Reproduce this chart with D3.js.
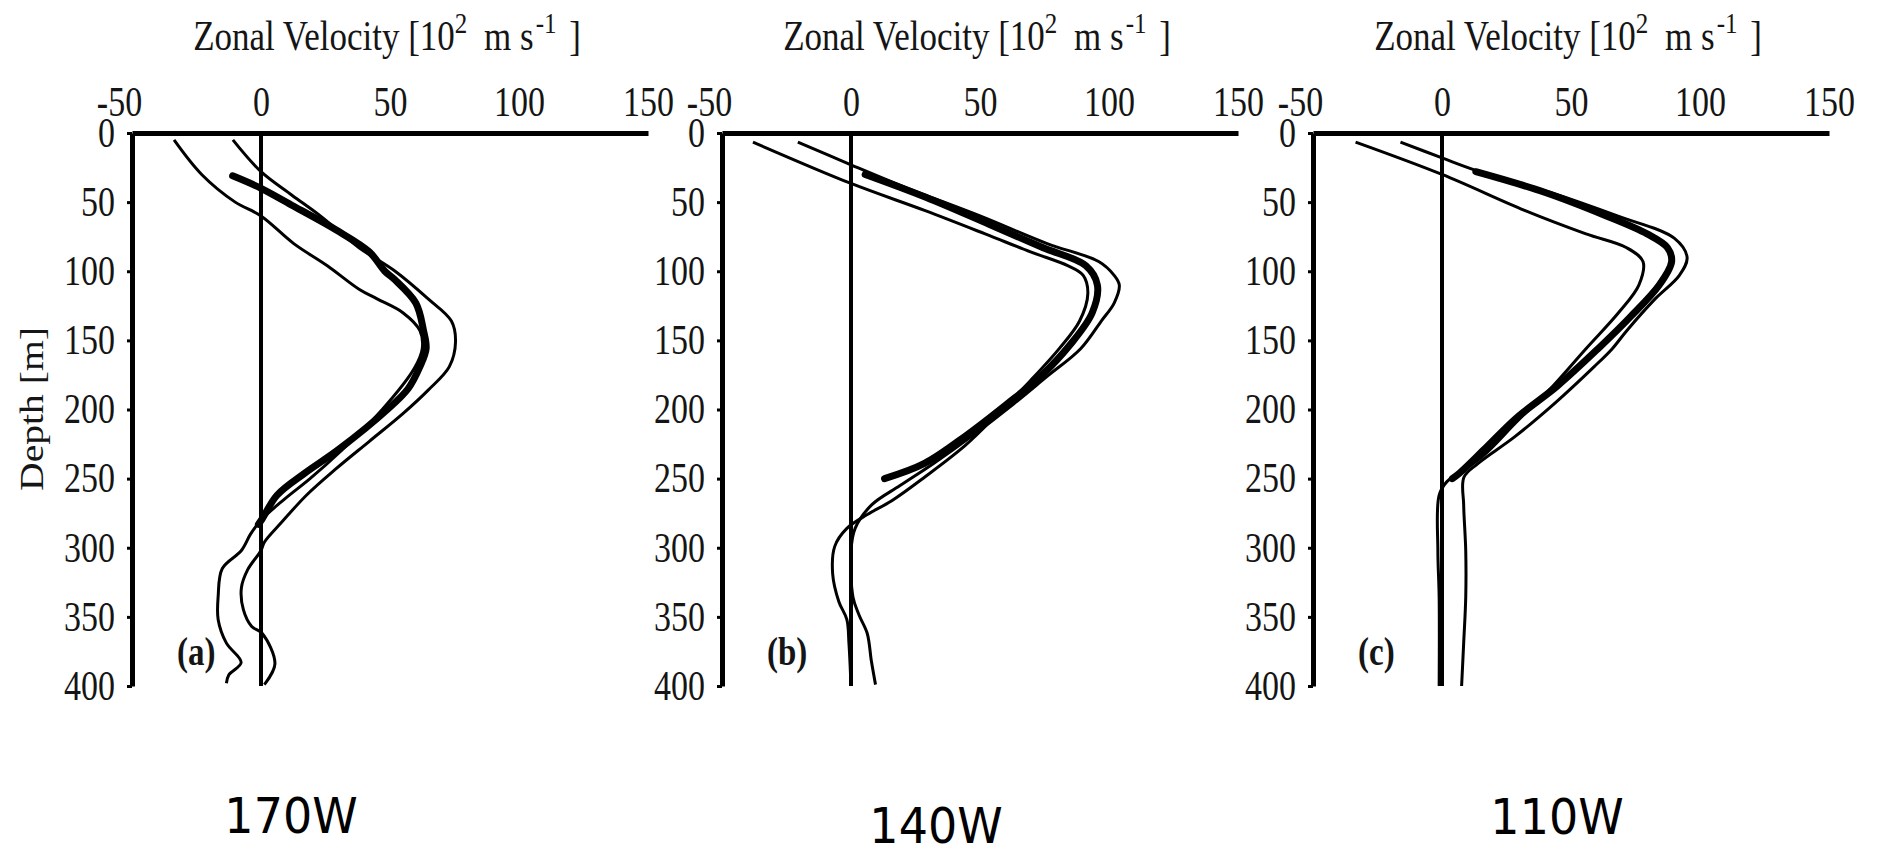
<!DOCTYPE html>
<html>
<head>
<meta charset="utf-8">
<script src="https://cdn.jsdelivr.net/npm/d3@7"></script>
<style>
  body { margin: 0; background: #fff; }
  svg { display: block; }
</style>
</head>
<body>
<div id="vis"></div>
<script>
// velocity profiles, each point is [depth (m), zonal velocity (10^-2 m/s)]

const xTicks = [-50, 0, 50, 100, 150];
const yTicks = [0, 50, 100, 150, 200, 250, 300, 350, 400];
const panelLetters = ['(a)', '(b)', '(c)'];
const sections = ['170W', '140W', '110W'];

// 170W
const a_thin1 = [[5,-33.7],[30,-23],[50,-10],[60,0],[80,12.7],[96,25.7],[113,38],[120,45],[130,55],[143,61.6],[156,62.5],[170,59.5],[200,47],[230,31],[250,19],[265,9],[280,0],[290,-4],[302,-7.6],[315,-15],[335,-16.6],[352,-16.6],[369,-13.4],[383,-7.7],[392,-12.5],[398,-13.4]];
const a_thin2 = [[5,-10.9],[28,0],[45,12],[60,23],[83,38],[100,52],[120,64.8],[136,73.8],[151,75.4],[169,73],[186,64.8],[203,55],[223,42],[243,29],[262,17.6],[282,7.8],[296,1.3],[302,0],[316,-5.2],[329,-7.6],[345,-6.8],[357,-3.6],[362,0.5],[384,5.4],[399,1.3]];
const a_thick = [[31,-11],[40,0],[53,12.7],[70,29],[86,42],[100,48],[106,51.8],[123,60],[143,63],[156,64],[169,61.6],[185,57],[200,49],[229,30],[246,17],[262,6.2],[279,0.5],[283,-1]];

// 140W
const b_thin1 = [[6.6,-38],[36.5,0],[56,28.5],[73,52],[86,69.6],[96,84],[103,90],[116,91.8],[136,88.6],[156,80.7],[179,69.6],[203,57],[226,44.3],[249,28.5],[266,15.8],[276,6.3],[286,-1.6],[299,-6.3],[319,-7.1],[339,-4.7],[352,-1.6],[369,-0.8],[400,0]];
const b_thin2 = [[6.6,-20.6],[23,0],[40,22],[60,50],[80,76],[93,96],[103,102],[110,104],[123,102],[136,97],[156,89],[176,76],[196,63],[219,47],[239,32],[255,19],[269,8],[286,1.6],[302,0],[336,0.8],[349,3.2],[362,6.3],[382,7.9],[399,9.5]];
const b_thick = [[30,5.5],[46.5,29],[66,53.5],[83,74.5],[96,91],[110,95.5],[130,93.5],[153,85],[176,73.5],[196,60.5],[219,44.5],[239,28.5],[250,13]];

// 110W
const c_thin1 = [[6.6,-33.5],[30,0],[56,32],[73,55.8],[83,71.6],[93,77.9],[110,76.3],[130,68.4],[156,55.8],[186,41.5],[209,28.9],[233,16.3],[246,6.8],[252,2],[262,-1.1],[302,-1.6],[336,-1.1],[400,-1.1]];
const c_thin2 = [[6.6,-16.1],[18,0],[27,13.1],[43,42],[60,68],[76,90],[90,95],[103,92],[120,82.6],[143,71.6],[156,66],[169,59],[195,44],[220,28],[239,14],[249,8.5],[269,8.4],[302,9.2],[336,9.2],[369,8.4],[400,7.6]];
const c_thick = [[28,13.1],[43,40],[60,63.7],[73,79.5],[83,87.4],[93,89],[110,84.2],[133,73],[156,60.5],[183,44.7],[206,28.9],[229,16.3],[246,6.8],[250,4]];

const profiles = [
  {thin: [a_thin1, a_thin2], thick: a_thick},
  {thin: [b_thin1, b_thin2], thick: b_thick},
  {thin: [c_thin1, c_thin2], thick: c_thick}
];

const W = 1878, H = 847;
const panelLeft = [132, 722, 1313];
const panelW = 516, plotTop = 133, plotBottom = 686;
const sectionPos = [[291, 833], [936, 843], [1557, 834]];
const serif = '"Liberation Serif", "Times New Roman", serif';
const stretch = 1.22;
const ink = '#151515';

const svg = d3.select('#vis')
  .append('svg')
  .attr('width', W)
  .attr('height', H)
  .style('background-color', '#fff');

profiles.forEach(function(p, i) {
  const left = panelLeft[i];
  const x = d3.scaleLinear().domain([-50, 150]).range([left, left + panelW]);
  const y = d3.scaleLinear().domain([0, 400]).range([plotTop, plotBottom]);
  const g = svg.append('g');

  const line = d3.line()
    .x(d => x(d[1]))
    .y(d => y(d[0]))
    .curve(d3.curveCatmullRom.alpha(0.5));

  // zero line
  g.append('line')
    .attr('x1', x(0)).attr('x2', x(0))
    .attr('y1', y(0)).attr('y2', y(400))
    .attr('stroke', '#000')
    .attr('stroke-width', 4);

  p.thin.forEach(function(s) {
    g.append('path')
      .datum(s)
      .attr('d', line)
      .attr('fill', 'none')
      .attr('stroke', '#000')
      .attr('stroke-width', 3);
  });

  g.append('path')
    .datum(p.thick)
    .attr('d', line)
    .attr('fill', 'none')
    .attr('stroke', '#000')
    .attr('stroke-width', 7)
    .attr('stroke-linecap', 'round');

  // depth axis
  const yAxis = g.append('g')
    .attr('transform', 'translate(' + left + ',0)')
    .call(d3.axisLeft(y).tickValues(yTicks).tickSize(5).tickSizeOuter(0).tickPadding(12).tickFormat(d => String(d)));
  yAxis.select('.domain').attr('stroke-width', 5);
  yAxis.selectAll('.tick line').attr('stroke-width', 3);
  yAxis.selectAll('.tick text')
    .attr('font-family', serif)
    .attr('font-size', 34)
    .attr('fill', ink)
    .attr('transform', 'scale(1,' + stretch + ')');

  // velocity axis on top
  const xAxis = g.append('g')
    .attr('transform', 'translate(0,' + plotTop + ')')
    .call(d3.axisTop(x).tickValues(xTicks).tickSize(0).tickSizeOuter(0).tickPadding(14).tickFormat(d => String(d)));
  xAxis.select('.domain').attr('stroke-width', 5);
  xAxis.selectAll('.tick text')
    .attr('font-family', serif)
    .attr('font-size', 34)
    .attr('fill', ink)
    .attr('dx', d => d < 0 ? -13 : 0)
    .attr('transform', 'scale(1,' + stretch + ')');

  // title
  const title = g.append('text')
    .attr('transform', 'translate(' + (left + panelW / 2 - 3) + ',50) scale(1,1.2)')
    .attr('text-anchor', 'middle')
    .attr('font-family', serif)
    .attr('font-size', 35)
    .attr('fill', ink);
  title.append('tspan').text('Zonal Velocity [10');
  title.append('tspan').attr('font-size', 25).attr('dy', -14).text('2');
  title.append('tspan').attr('dy', 14).attr('dx', 8).text(' m s');
  title.append('tspan').attr('font-size', 25).attr('dy', -14).attr('dx', 2).text('-1');
  title.append('tspan').attr('dy', 14).attr('dx', 4).text(' ]');

  // panel letter
  g.append('text')
    .attr('transform', 'translate(' + (left + 45) + ',665) scale(1,' + stretch + ')')
    .attr('font-family', serif)
    .attr('font-weight', 'bold')
    .attr('font-size', 33)
    .attr('fill', ink)
    .text(panelLetters[i]);

  // section label under the panel
  svg.append('text')
    .attr('transform', 'translate(' + sectionPos[i][0] + ',' + sectionPos[i][1] + ') scale(1,1.07)')
    .attr('text-anchor', 'middle')
    .attr('font-family', '"DejaVu Sans", sans-serif')
    .attr('font-size', 46)
    .attr('fill', '#000')
    .text(sections[i]);
});

svg.append('text')
  .attr('transform', 'translate(43,409) rotate(-90) scale(1.2,1)')
  .attr('text-anchor', 'middle')
  .attr('font-family', serif)
  .attr('font-size', 33)
  .attr('fill', ink)
  .text('Depth [m]');
</script>
</body>
</html>
